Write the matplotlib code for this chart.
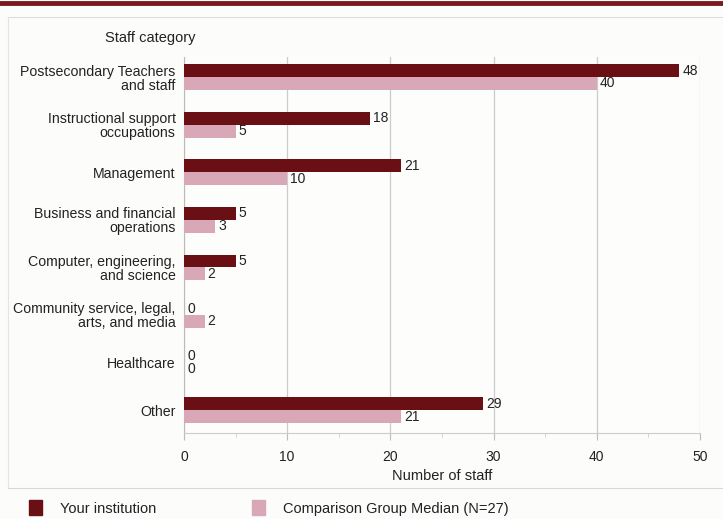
import matplotlib.pyplot as plt
import numpy as np
from matplotlib.lines import Line2D
from matplotlib.patches import Rectangle

categories = ["Postsecondary Teachers\nand staff",
              "Instructional support\noccupations",
              "Management",
              "Business and financial\noperations",
              "Computer, engineering,\nand science",
              "Community service, legal,\narts, and media",
              "Healthcare",
              "Other"]
your_inst = [48, 18, 21, 5, 5, 0, 0, 29]
comparison = [40, 5, 10, 3, 2, 2, 0, 21]

dark = "#6a0f14"
light = "#d8a8b8"
txt = "#222222"

plt.rcParams['font.family'] = ['Liberation Sans', 'DejaVu Sans']

fig = plt.figure(figsize=(7.23, 5.19), dpi=100)
fig.set_facecolor("#fcfcfa")
ax = fig.add_axes([0.2545, 0.1657, 0.7135, 0.7243])
ax.set_facecolor("#fdfdfc")

y = np.arange(len(categories))
h = 0.27
ax.barh(y - h / 2, your_inst, height=h, color=dark, zorder=3)
ax.barh(y + h / 2, comparison, height=h, color=light, zorder=3)

for i in range(len(categories)):
    ax.text(your_inst[i] + 0.3, y[i] - h / 2, str(your_inst[i]), va='center', ha='left',
            fontsize=10, color=txt)
    ax.text(comparison[i] + 0.3, y[i] + h / 2, str(comparison[i]), va='center', ha='left',
            fontsize=10, color=txt)

ax.set_xlim(0, 50)
ax.set_ylim(7.48, -0.42)
ax.set_yticks(y)
ax.set_yticklabels(categories, fontsize=10.2, color=txt, linespacing=1.0)
ax.set_xticks([0, 10, 20, 30, 40, 50])
ax.set_xticks(np.arange(0, 51, 5), minor=True)
ax.tick_params(axis='x', labelsize=10, colors=txt, length=5, color="#bbbbbb", pad=7)
ax.tick_params(axis='x', which='minor', length=3, color="#cccccc")
ax.tick_params(axis='y', length=0, pad=6)
ax.grid(axis='x', color="#cccccc", linewidth=0.9, zorder=0)
for s in ["top", "right"]:
    ax.spines[s].set_visible(False)
ax.spines["left"].set_color("#bbbbbb")
ax.spines["bottom"].set_color("#cccccc")
ax.set_xlabel("Number of staff", fontsize=10.5, color=txt, labelpad=4)

fig.text(105 / 723, 1 - 38 / 519, "Staff category", fontsize=10.5, color=txt, va='center')

# decorations
fig.add_artist(Line2D([0, 1], [1 - 3 / 519, 1 - 3 / 519], color="#7a1a20", linewidth=3.5))
fig.add_artist(Line2D([8 / 723, 1], [1 - 17 / 519, 1 - 17 / 519], color="#dddddd", linewidth=0.8))
fig.add_artist(Line2D([8 / 723, 8 / 723], [1 - 17 / 519, 1 - 488 / 519], color="#e4e4e4", linewidth=0.8))
fig.add_artist(Line2D([8 / 723, 1], [1 - 488 / 519, 1 - 488 / 519], color="#d8d8d8", linewidth=0.8))

handles = [Rectangle((0, 0), 1, 1, color=dark), Rectangle((0, 0), 1, 1, color=light)]
fig.legend(handles, ["Your institution", "Comparison Group Median (N=27)"], ncol=2,
           loc='center left', bbox_to_anchor=(0.022, 1 - 508 / 519), frameon=False,
           fontsize=10.5, handlelength=0.9, handleheight=1.2, columnspacing=6.6,
           handletextpad=1.2, labelcolor=txt)

plt.savefig("out.png", dpi=100, facecolor=fig.get_facecolor())
